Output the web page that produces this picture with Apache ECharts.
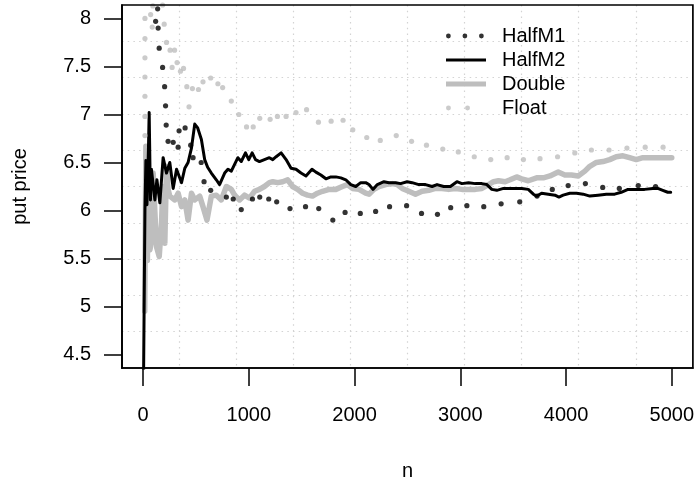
<!DOCTYPE html>
<html>
<head>
<meta charset="utf-8">
<title>put price</title>
<script src="https://cdn.jsdelivr.net/npm/echarts@6/dist/echarts.min.js"></script>
<style>
  html, body { margin: 0; padding: 0; background: #fff; }
  #chart { width: 697px; height: 491px; }
</style>
</head>
<body>
<div id="chart"></div>
<script>
// axis ranges (R adds 4% on each side) and tick marks
var xLim = [0, 5000]
var yLim = [4.5, 8]
var xTicks = [0, 1000, 2000, 3000, 4000, 5000]
var yTicks = [4.5, 5, 5.5, 6, 6.5, 7, 7.5, 8]

// values, [n, put price]
// HalfM1 and Float are drawn as dotted lines in the original, these are the visible dots
var halfM1 = [
  [137, 8.10], [118, 7.97], [142, 7.90], [152, 7.69], [184, 7.49], [203, 7.29],
  [212, 7.09], [218, 6.89], [236, 6.72], [284, 6.71], [331, 6.66], [340, 6.83],
  [397, 6.86], [450, 6.68], [472, 6.55], [549, 6.50], [576, 6.30], [639, 6.21],
  [787, 6.14], [852, 6.12], [928, 6.01], [1034, 6.12], [1103, 6.14], [1188, 6.12],
  [1263, 6.09], [1389, 6.02], [1536, 6.04], [1661, 6.02], [1794, 5.90], [1910, 5.98],
  [2054, 5.97], [2199, 5.99], [2331, 6.04], [2492, 6.05], [2633, 5.97], [2784, 5.96],
  [2909, 6.03], [3062, 6.05], [3222, 6.04], [3386, 6.07], [3562, 6.09], [3726, 6.15],
  [3870, 6.22], [4020, 6.26], [4183, 6.28], [4347, 6.24], [4504, 6.23], [4683, 6.26],
  [4847, 6.25]
]

var halfM2 = [
  [2, 4.00], [17, 6.01], [26, 6.52], [36, 6.06], [50, 6.63], [57, 7.02], [69, 6.11],
  [78, 6.43], [95, 6.41], [111, 6.11], [130, 6.32], [158, 6.08], [189, 6.55],
  [221, 6.39], [252, 6.50], [284, 6.23], [316, 6.43], [363, 6.29], [394, 6.44],
  [425, 6.50], [457, 6.65], [488, 6.90], [516, 6.86], [551, 6.74], [582, 6.53],
  [610, 6.45], [645, 6.39], [692, 6.32], [723, 6.27], [771, 6.39], [802, 6.43],
  [834, 6.41], [865, 6.48], [896, 6.55], [928, 6.51], [968, 6.60], [999, 6.53],
  [1031, 6.60], [1063, 6.53], [1100, 6.51], [1147, 6.53], [1194, 6.55], [1226, 6.53],
  [1258, 6.56], [1305, 6.60], [1352, 6.53], [1399, 6.44], [1446, 6.43], [1493, 6.39],
  [1540, 6.36], [1597, 6.43], [1634, 6.40], [1681, 6.37], [1729, 6.33], [1776, 6.35],
  [1823, 6.35], [1870, 6.34], [1917, 6.32], [1964, 6.27], [2011, 6.25], [2058, 6.29],
  [2105, 6.29], [2136, 6.27], [2174, 6.22], [2215, 6.27], [2278, 6.30], [2325, 6.29],
  [2388, 6.29], [2435, 6.28], [2497, 6.30], [2544, 6.29], [2607, 6.27], [2671, 6.27],
  [2733, 6.25], [2780, 6.27], [2843, 6.25], [2906, 6.25], [2968, 6.30], [3015, 6.28],
  [3078, 6.29], [3142, 6.28], [3204, 6.28], [3251, 6.27], [3298, 6.22], [3345, 6.21],
  [3408, 6.23], [3486, 6.23], [3581, 6.23], [3643, 6.22], [3691, 6.17], [3722, 6.15],
  [3769, 6.18], [3832, 6.17], [3895, 6.16], [3933, 6.14], [3973, 6.16], [4036, 6.18],
  [4099, 6.18], [4162, 6.17], [4225, 6.15], [4303, 6.16], [4381, 6.17], [4460, 6.17],
  [4522, 6.19], [4586, 6.22], [4664, 6.22], [4743, 6.22], [4821, 6.23], [4868, 6.23],
  [4915, 6.21], [4962, 6.19], [4990, 6.19]
]

var doubleVals = [
  [15, 4.95], [26, 6.67], [40, 5.48], [50, 6.37], [64, 5.59], [80, 5.69], [95, 6.39],
  [111, 5.98], [127, 5.62], [152, 5.52], [174, 5.87], [186, 6.25], [205, 5.66],
  [221, 6.46], [236, 6.22], [252, 6.15], [300, 6.11], [331, 6.18], [363, 6.04],
  [394, 6.11], [425, 5.90], [457, 6.18], [488, 6.11], [535, 6.15], [566, 6.04],
  [604, 5.90], [645, 6.15], [692, 6.16], [739, 6.11], [787, 6.25], [834, 6.22],
  [865, 6.16], [912, 6.11], [959, 6.16], [1006, 6.13], [1053, 6.20], [1100, 6.22],
  [1147, 6.25], [1194, 6.29], [1226, 6.30], [1273, 6.29], [1320, 6.30], [1367, 6.32],
  [1414, 6.25], [1461, 6.22], [1508, 6.18], [1555, 6.16], [1602, 6.15], [1649, 6.18],
  [1697, 6.20], [1760, 6.22], [1823, 6.22], [1885, 6.25], [1932, 6.27], [1979, 6.23],
  [2042, 6.22], [2105, 6.18], [2136, 6.17], [2183, 6.22], [2231, 6.25], [2294, 6.27],
  [2356, 6.28], [2403, 6.27], [2450, 6.23], [2513, 6.20], [2576, 6.17], [2639, 6.20],
  [2702, 6.21], [2765, 6.23], [2827, 6.23], [2890, 6.22], [2953, 6.23], [3015, 6.22],
  [3078, 6.22], [3142, 6.22], [3204, 6.23], [3267, 6.27], [3314, 6.30], [3361, 6.31],
  [3424, 6.30], [3471, 6.32], [3533, 6.35], [3580, 6.33], [3643, 6.31], [3722, 6.34],
  [3785, 6.34], [3848, 6.36], [3926, 6.40], [3989, 6.37], [4051, 6.37], [4115, 6.36],
  [4178, 6.41], [4225, 6.46], [4287, 6.50], [4350, 6.51], [4413, 6.53], [4475, 6.56],
  [4538, 6.57], [4601, 6.55], [4664, 6.53], [4727, 6.55], [4790, 6.55], [4868, 6.55],
  [4946, 6.55], [5000, 6.55]
]

var floatVals = [
  [17, 6.78], [17, 6.98], [17, 7.19], [17, 7.39], [17, 7.59], [17, 7.79], [17, 8.00],
  [71, 8.04], [86, 7.91], [92, 8.13], [184, 8.14], [199, 7.94], [221, 7.75],
  [255, 7.67], [297, 7.67], [274, 7.49], [321, 7.54], [353, 7.45], [382, 7.48],
  [413, 7.29], [434, 7.08], [466, 7.27], [523, 7.26], [566, 7.34], [639, 7.38],
  [707, 7.32], [752, 7.28], [834, 7.14], [905, 7.00], [978, 6.87], [1041, 6.87],
  [1103, 6.96], [1201, 6.95], [1270, 6.98], [1352, 6.98], [1446, 7.02], [1546, 7.05],
  [1658, 6.92], [1778, 6.93], [1891, 6.94], [1983, 6.84], [2115, 6.76], [2243, 6.73],
  [2394, 6.78], [2539, 6.72], [2680, 6.68], [2834, 6.64], [2981, 6.61], [3132, 6.56],
  [3288, 6.53], [3443, 6.55], [3597, 6.53], [3754, 6.54], [3920, 6.56], [4083, 6.60],
  [4240, 6.63], [4407, 6.63], [4576, 6.65], [4749, 6.66], [4918, 6.66]
]

var black = '#000000'
var gray = '#bebebe'
var font = 'Liberation Sans, Arial, Helvetica, sans-serif'

function pad(lim) {
  var d = (lim[1] - lim[0]) * 0.04
  return [lim[0] - d, lim[1] + d]
}

// legend keys, each drawn 40px wide
function dot(cx) {
  return 'M' + (cx - 2.4) + ',3a2.4,2.4 0 1,0 4.8,0a2.4,2.4 0 1,0 -4.8,0Z'
}
var tiny = 'M39.9,3a0.05,0.05 0 1,0 0.1,0a0.05,0.05 0 1,0 -0.1,0Z'
var icons = {
  HalfM1: 'path://' + dot(2.4) + dot(18.9) + dot(35.4) + tiny,
  HalfM2: 'path://M0,1.5H40V4.5H0Z',
  Double: 'path://M0,0.5H40V5.5H0Z',
  Float: 'path://' + dot(3.4) + dot(22) + tiny
}

function plain(v) {
  return String(v)
}

function boxLine() {
  return { show: true, onZero: false, lineStyle: { color: '#000', width: 1.7 } }
}

// grid(10, 10) spread over the whole plot
function gridAxis(pos) {
  return {
    type: 'value', min: 0, max: 10, interval: 1, position: pos,
    axisLine: { show: false, onZero: false }, axisTick: { show: false }, axisLabel: { show: false },
    splitLine: {
      show: true, showMinLine: false, showMaxLine: false,
      lineStyle: { color: '#d3d3d3', width: 1.2, type: [1.5, 4.2] }
    }
  }
}

function initChart() {
  var chart = echarts.init(document.getElementById('chart'))
  var xr = pad(xLim)
  var yr = pad(yLim)

  chart.setOption({
    animation: false,
    textStyle: { fontFamily: font },
    grid: { left: 122, top: 5, width: 573, height: 363, show: false },
    legend: {
      orient: 'vertical',
      left: 446,
      top: 26,
      padding: 0,
      itemWidth: 40,
      itemHeight: 6,
      itemGap: 4,
      symbolKeepAspect: true,
      textStyle: { fontSize: 20, color: black, fontFamily: font, padding: [0, 0, 0, 11] },
      data: [
        { name: 'HalfM1', icon: icons.HalfM1, itemStyle: { color: black, borderWidth: 0 } },
        { name: 'HalfM2', icon: icons.HalfM2, itemStyle: { color: black, borderWidth: 0 } },
        { name: 'Double', icon: icons.Double, itemStyle: { color: gray, borderWidth: 0 } },
        { name: 'Float', icon: icons.Float, itemStyle: { color: gray, borderWidth: 0 } }
      ]
    },
    xAxis: [{
      type: 'value',
      min: xr[0],
      max: xr[1],
      name: 'n',
      nameLocation: 'middle',
      nameGap: 93,
      nameTextStyle: { fontSize: 20, color: black, fontFamily: font },
      axisLine: boxLine(),
      axisTick: { show: true, inside: false, length: 18, customValues: xTicks, lineStyle: { color: black, width: 1.5 } },
      axisLabel: { show: true, customValues: xTicks, formatter: plain, margin: 37, fontSize: 20, color: black, fontFamily: font },
      splitLine: { show: false }
    }, gridAxis('top')],
    yAxis: [{
      type: 'value',
      min: yr[0],
      max: yr[1],
      name: 'put price',
      nameLocation: 'middle',
      nameGap: 92,
      nameRotate: 90,
      nameTextStyle: { fontSize: 20, color: black, fontFamily: font },
      axisLine: boxLine(),
      axisTick: { show: true, inside: false, length: 18, customValues: yTicks, lineStyle: { color: black, width: 1.5 } },
      axisLabel: { show: true, customValues: yTicks, formatter: plain, margin: 31, fontSize: 20, color: black, fontFamily: font },
      splitLine: { show: false }
    }, gridAxis('right')],
    series: [{
      name: 'HalfM1',
      type: 'scatter',
      z: 4,
      symbol: 'circle',
      symbolSize: 5.2,
      itemStyle: { color: black },
      data: halfM1
    }, {
      name: 'HalfM2',
      type: 'line',
      z: 3,
      showSymbol: false,
      symbol: 'none',
      lineStyle: { color: black, width: 3, cap: 'round', join: 'round' },
      itemStyle: { color: black },
      data: halfM2
    }, {
      name: 'Double',
      type: 'line',
      z: 2,
      showSymbol: false,
      symbol: 'none',
      lineStyle: { color: gray, width: 5.5, cap: 'round', join: 'round' },
      itemStyle: { color: gray },
      data: doubleVals
    }, {
      name: 'Float',
      type: 'scatter',
      z: 4,
      symbol: 'circle',
      symbolSize: 5.2,
      itemStyle: { color: gray },
      data: floatVals
    }]
  })

  // box round the plot region, corners taken from the axes' own scales
  var p0 = chart.convertToPixel({ xAxisIndex: 0, yAxisIndex: 0 }, [xr[0], yr[1]])
  var p1 = chart.convertToPixel({ xAxisIndex: 0, yAxisIndex: 0 }, [xr[1], yr[0]])
  chart.setOption({
    graphic: [{
      type: 'rect',
      z: 100,
      silent: true,
      shape: { x: p0[0], y: p0[1], width: p1[0] - p0[0], height: p1[1] - p0[1] },
      style: { fill: 'none', stroke: black, lineWidth: 1.7 }
    }]
  })
  return chart
}

initChart()
</script>
</body>
</html>
